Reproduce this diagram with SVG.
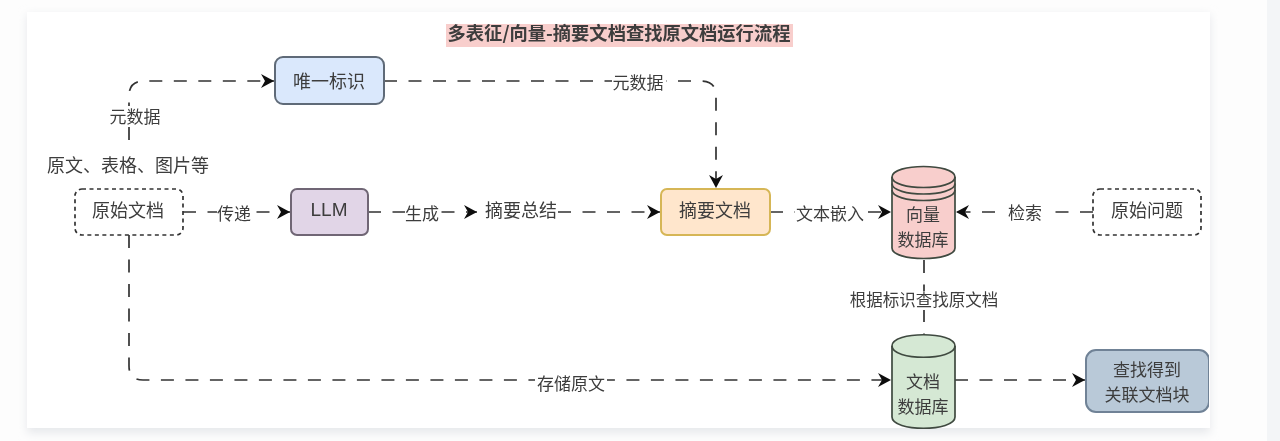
<svg xmlns="http://www.w3.org/2000/svg" width="1280" height="441" viewBox="0 0 1280 441">
<style>
text{font-family:"Noto Sans CJK SC","Liberation Sans",sans-serif;fill:#3c3c3c;text-anchor:middle;dominant-baseline:central}
.n{font-size:18px}
.m{font-size:17px}
.l{font-size:17px}
.c{fill:none;stroke:#333;stroke-width:1.7;stroke-dasharray:13 11.5}
.box{stroke-width:2}
.dash{fill:#fff;stroke:#333;stroke-width:1.7;stroke-dasharray:4 3.5}
.w{fill:#fff}
.cyl{stroke:#3f4a40;stroke-width:1.7}
</style>
<defs>
<marker id="a" markerWidth="15" markerHeight="16" refX="13" refY="7.5" orient="auto" markerUnits="userSpaceOnUse"><path d="M0 0.5L13 7.5L0 14.5L4 7.5Z" fill="#111"/></marker>
<filter id="s" x="-5%" y="-5%" width="110%" height="115%"><feGaussianBlur stdDeviation="5"/></filter>
<filter id="b" x="0" y="0" width="100%" height="100%"><feGaussianBlur stdDeviation="0.55"/></filter>
</defs>
<rect width="1280" height="441" fill="#fdfdfd"/>
<rect x="1267" width="13" height="441" fill="#f3f5f7"/>
<rect x="27" y="15" width="1183" height="418" fill="#e6e8eb" filter="url(#s)"/>
<rect x="27" y="12" width="1183" height="416" fill="#fff"/>
<g filter="url(#b)">
<g id="connectors">
<path class="c" d="M129 189V96Q129 81 144 81H274" marker-end="url(#a)"/>
<path class="c" d="M384 81H701Q716 81 716 96V188" marker-end="url(#a)"/>
<path class="c" d="M183 212H290" marker-end="url(#a)"/>
<path class="c" d="M368 212H477" marker-end="url(#a)"/>
<path class="c" d="M558 212H660" marker-end="url(#a)"/>
<path class="c" d="M770 212H891" marker-end="url(#a)"/>
<path class="c" d="M1093 212H956" marker-end="url(#a)"/>
<path class="c" d="M129 235V366Q129 380 143 380H891" marker-end="url(#a)"/>
<path class="c" d="M955 380H1085" marker-end="url(#a)"/>
<path class="c" d="M924 260V335"/>
<rect class="w" x="106" y="106" width="56" height="20"/><text class="l" x="135" y="115">元数据</text>
<rect class="w" x="612" y="72" width="54" height="20"/><text class="l" x="638" y="81">元数据</text>
<rect class="w" x="217" y="203" width="34" height="20"/><text class="l" x="234" y="212">传递</text>
<rect class="w" x="405" y="203" width="34" height="20"/><text class="l" x="422" y="212">生成</text>
<rect class="w" x="795" y="203" width="70" height="20"/><text class="l" x="830" y="212">文本嵌入</text>
<rect class="w" x="1006" y="203" width="38" height="20"/><text class="l" x="1025" y="211">检索</text>
<rect class="w" x="535" y="373" width="72" height="20"/><text class="l" x="571" y="382">存储原文</text>
<rect class="w" x="845" y="291" width="158" height="19"/><text class="l" x="924" y="299" style="font-size:16.5px">根据标识查找原文档</text>
</g>
<g id="title"><rect x="446" y="24" width="347" height="23" fill="#f8cecc"/><text x="619" y="32" style="font-size:18.3px;font-weight:700">多表征/向量-摘要文档查找原文档运行流程</text></g>
<g id="n-id"><rect class="box" x="275" y="57" width="109" height="47" rx="8" fill="#dae8fc" stroke="#5f6b78"/><text class="n" x="329" y="80">唯一标识</text></g>
<g id="n-note"><rect class="w" x="44" y="142" width="170" height="47"/><text class="n" x="128" y="164">原文、表格、图片等</text></g>
<g id="n-src"><rect class="dash" x="75" y="189" width="108" height="46" rx="7"/><text class="n" x="128" y="209">原始文档</text></g>
<g id="n-llm"><rect class="box" x="291" y="189" width="77" height="46" rx="6" fill="#e1d5e7" stroke="#6f6675"/><text x="329" y="209" style="font-family:'Liberation Sans',sans-serif;font-size:19px">LLM</text></g>
<g id="n-sum"><text class="n" x="521" y="209">摘要总结</text></g>
<g id="n-doc"><rect class="box" x="661" y="189" width="109" height="46" rx="6" fill="#ffe6cc" stroke="#d6b656"/><text class="n" x="715" y="209">摘要文档</text></g>
<g id="n-vec">
<path class="cyl" d="M892 177C892 163 955 163 955 177V248C955 262 892 262 892 248Z" fill="#f8cecc"/>
<path class="cyl" fill="none" d="M892 177C892 191 955 191 955 177M892 183.500C892 197.500 955 197.500 955 183.500M892 190C892 204 955 204 955 190"/>
<text class="m" x="923" y="213">向量</text><text class="m" x="923" y="238">数据库</text>
</g>
<g id="n-q"><rect class="dash" x="1093" y="189" width="108" height="46" rx="7"/><text class="n" x="1147" y="209">原始问题</text></g>
<g id="n-store">
<path class="cyl" d="M892 346C892 331 955 331 955 346V417C955 432 892 432 892 417Z" fill="#d5e8d4"/>
<path class="cyl" fill="none" d="M892 346C892 361 955 361 955 346"/>
<text class="m" x="923" y="380">文档</text><text class="m" x="923" y="405">数据库</text>
</g>
<g id="n-res"><rect class="box" x="1086" y="350" width="123" height="62" rx="10" fill="#b9c9d8" stroke="#6f8296"/><text class="m" x="1147" y="368.500">查找得到</text><text class="m" x="1147" y="393.500">关联文档块</text></g>
</g>
</svg>
